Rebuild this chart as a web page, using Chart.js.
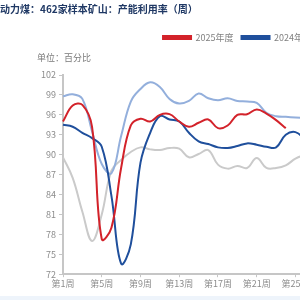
<!DOCTYPE html>
<html lang="zh-CN">
<head>
    <meta charset="UTF-8">
    <title>动力煤：462家样本矿山：产能利用率（周）</title>
    <script src="https://cdn.jsdelivr.net/npm/chart.js"></script>
    <style>
        html, body {
            margin: 0;
            padding: 0;
            overflow: hidden;
            background: #fff;
        }
        .wrap {
            position: absolute;
            left: 0;
            top: 0;
            width: 570px;
            height: 300px;
        }
        .band {
            position: absolute;
            left: 0;
            top: 296px;
            width: 300px;
            height: 4px;
            background: #eef4fb;
        }
    </style>
</head>
<body>
    <div class="wrap"><canvas id="chart"></canvas></div>
    <div class="band"></div>

    <script>
        // categories: week numbers
        const weeks = Array.from({ length: 52 }, (_, i) => "第" + (i + 1) + "周");

        // capacity utilisation, %
        const y2025 = [95.0, 97.4, 97.5, 94.2, 77.3, 79.0, 88.0, 94.4, 95.4, 95.0, 96.0, 96.1,
                       95.0, 94.2, 94.8, 95.3, 94.0, 94.4, 96.0, 96.1, 96.8, 96.2, 95.2, 94.0];
        const y2024 = [94.5, 94.2, 93.3, 92.5, 91.2, 83.8, 73.6, 76.5, 88.8, 93.3, 95.8, 95.3,
                       95.0, 93.3, 92.0, 91.6, 91.1, 91.0, 91.3, 91.7, 91.5, 91.2, 91.1, 93.0, 93.4, 92.3];
        const y2023 = [98.8, 99.1, 98.4, 93.5, 88.6, 87.2, 92.8, 98.0, 99.9, 100.9, 100.2, 98.4,
                       97.7, 98.1, 99.2, 98.5, 98.2, 98.5, 98.1, 98.0, 97.8, 96.3, 95.8, 95.7, 95.6, 95.5];
        const y2022 = [89.6, 86.5, 81.4, 77.0, 81.0, 87.6, 89.2, 90.4, 91.1, 90.8, 90.7, 91.0,
                       90.9, 89.6, 90.1, 90.7, 88.5, 87.9, 88.3, 88.0, 89.5, 88.0, 88.0, 88.4, 89.4, 90.0];

        const seriesNames = ["2025年度", "2024年度", "2023年度", "2022年度"];
        const yMin = 72, yMax = 102, yStep = 3;

        const tickFont = { family: "'Noto Sans CJK SC', sans-serif", size: 9 };
        const axisGray = "#c6c6c6";

        // extra room under the legend for the unit label, legend nudged right
        const legendGap = {
            id: "legendGap",
            beforeInit(chart) {
                const fit = chart.legend.fit;
                chart.legend.fit = function () {
                    fit.call(this);
                    this.height += 23;
                };
            },
            afterLayout(chart) {
                chart.legend.left += 6;
                chart.legend.right += 6;
            },
            afterDraw(chart) {
                const ctx = chart.ctx;
                ctx.save();
                ctx.font = "9px 'Noto Sans CJK SC', sans-serif";
                ctx.fillStyle = "#7a7a7a";
                ctx.textBaseline = "middle";
                ctx.fillText("单位：百分比", chart.chartArea.left - 26, chart.chartArea.top - 17);
                ctx.restore();
            }
        };

        function line(label, data, color) {
            return {
                label: label,
                data: data,
                borderColor: color,
                backgroundColor: color,
                borderWidth: 2,
                pointRadius: 0,
                tension: 0.4,
                fill: false
            };
        }

        new Chart(document.getElementById("chart"), {
            type: "line",
            data: {
                labels: weeks,
                datasets: [
                    line(seriesNames[0], y2025, "#d3222a"),
                    line(seriesNames[1], y2024, "#1f4f9c"),
                    line(seriesNames[2], y2023, "#93afdc"),
                    line(seriesNames[3], y2022, "#cacaca")
                ]
            },
            options: {
                responsive: true,
                maintainAspectRatio: false,
                animation: false,
                layout: { padding: { left: 0, right: 13, top: 0, bottom: 10 } },
                plugins: {
                    title: {
                        display: true,
                        text: "动力煤：462家样本矿山：产能利用率（周）",
                        align: "start",
                        color: "#1f3864",
                        font: { family: "'Noto Sans CJK SC', sans-serif", size: 10, weight: "bold" },
                        padding: { top: 3, bottom: 10 }
                    },
                    legend: {
                        fullSize: false,
                        labels: {
                            boxWidth: 28,
                            boxHeight: 3,
                            padding: 8,
                            color: "#808080",
                            font: { family: "'Noto Sans CJK SC', sans-serif", size: 9 }
                        }
                    },
                    tooltip: { enabled: false }
                },
                scales: {
                    x: {
                        offset: false,
                        afterBuildTicks: scale => {
                            scale.ticks = scale.ticks.filter((t, i) => i % 4 === 0);
                        },
                        grid: { drawOnChartArea: false, tickLength: 3, color: axisGray },
                        border: { color: axisGray, width: 2 },
                        ticks: {
                            autoSkip: false,
                            maxRotation: 0,
                            padding: 1,
                            color: "#8c8c8c",
                            font: tickFont
                        }
                    },
                    y: {
                        min: yMin,
                        max: yMax,
                        afterFit: scale => { scale.width = 63; },
                        grid: { drawOnChartArea: false, tickLength: 4, color: axisGray },
                        border: { color: axisGray, width: 2 },
                        ticks: {
                            stepSize: yStep,
                            padding: 3,
                            color: "#8c8c8c",
                            font: tickFont
                        }
                    }
                }
            },
            plugins: [legendGap]
        });
    </script>
</body>
</html>
